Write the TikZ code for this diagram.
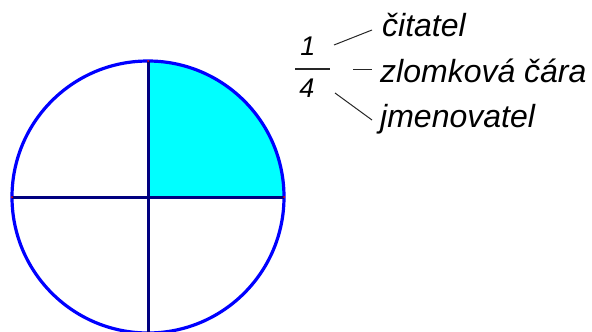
\documentclass[tikz,border=0pt]{standalone}
\usepackage{fontspec}
\setmainfont{Liberation Sans}
\usetikzlibrary{positioning}
\definecolor{quarterfill}{RGB}{0,255,255}
\definecolor{rimblue}{RGB}{0,0,255}
\definecolor{axisnavy}{RGB}{0,0,128}

\begin{document}
\begin{tikzpicture}[
  x=1pt, y=-1pt,
  rim/.style={draw=rimblue, line width=3.2pt},
  axis/.style={draw=axisnavy, line width=3pt},
  leader/.style={draw=black!85, line width=1pt},
  label/.style={anchor=base west, inner sep=0pt, font=\fontsize{32}{38}\selectfont\itshape},
  digit/.style={inner sep=0pt, font=\fontsize{27}{32}\selectfont\itshape},
]
\useasboundingbox (0,0) rectangle (592,332);
% quarter circle and its parts
\coordinate (O) at (148,197);
\coordinate (T) at (148,61);
\coordinate (L) at (12,197);
\coordinate (R) at (284,197);
\coordinate (B) at (148,333);
\fill[quarterfill] (O) -- (R) arc[start angle=0, end angle=-90, radius=136] -- cycle;
\draw[rim] (O) circle[radius=136];
\draw[axis] (L) -- (R);
\draw[axis] (T) -- (B);
\foreach \p in {T,L,R} \fill[red] (\p) circle[radius=1];
% fraction
\node[digit] (one) at (308,46) {1};
\node[digit] (four) at (307,88) {4};
\coordinate (barL) at (295,69);
\coordinate (barR) at (330,69);
\draw[line width=1.4pt, black!85] (barL) -- (barR);
% names of the parts
\node[label] (num) at (382,36) {čitatel};
\node[label] (bar) at (380,82) {zlomková čára};
\node[label] (den) at (380,127) {jmenovatel};
\coordinate (a1) at (334,45);
\coordinate (a2) at (372,30);
\coordinate (b1) at (353,69);
\coordinate (b2) at (372,69);
\coordinate (c1) at (335,93);
\coordinate (c2) at (372,120);
\draw[leader] (a1) -- (a2);
\draw[leader] (b1) -- (b2);
\draw[leader] (c1) -- (c2);
\end{tikzpicture}
\end{document}
